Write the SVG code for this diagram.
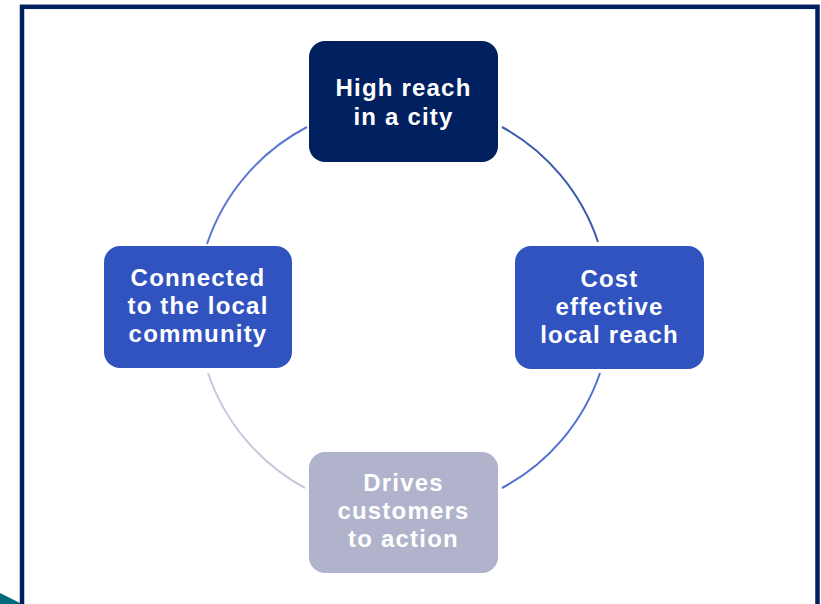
<svg xmlns="http://www.w3.org/2000/svg" width="821" height="604" viewBox="0 0 821 604">
<style>
.lbl{font-family:"Liberation Sans",Arial,sans-serif;font-weight:bold;font-size:24px;letter-spacing:1.2px;fill:#ffffff;text-anchor:middle}
.arc{fill:none;stroke-width:2}
</style>
<rect width="821" height="604" fill="#ffffff"/>
<polygon points="0,593 22,604 0,604" fill="#006b7a"/>
<rect x="22" y="6.8" width="795.5" height="620" fill="none" stroke="#002060" stroke-width="4.5"/>
<g id="connectors">
<path class="arc" d="M307,127 A206,206 0 0 0 207,244" stroke="#5a78d0"/>
<path class="arc" d="M502,127 A206,206 0 0 1 598,242" stroke="#3a5aaa"/>
<path class="arc" d="M600,373 A206,206 0 0 1 502,488" stroke="#5070d0"/>
<path class="arc" d="M208,373 A206,206 0 0 0 305,488" stroke="#c8c8dc"/>
</g>
<g id="node-top">
<rect x="309" y="41" width="189" height="121" rx="16" fill="#002060"/>
<text class="lbl" x="403.5" y="96">High reach</text>
<text class="lbl" x="403.5" y="125">in a city</text>
</g>
<g id="node-right">
<rect x="515" y="246" width="189" height="123" rx="16" fill="#3153c0"/>
<text class="lbl" x="609.5" y="287">Cost</text>
<text class="lbl" x="609.5" y="315">effective</text>
<text class="lbl" x="609.5" y="343">local reach</text>
</g>
<g id="node-bottom">
<rect x="309" y="452" width="189" height="121" rx="16" fill="#b0b3cb"/>
<text class="lbl" x="403.5" y="491">Drives</text>
<text class="lbl" x="403.5" y="519">customers</text>
<text class="lbl" x="403.5" y="547">to action</text>
</g>
<g id="node-left">
<rect x="104" y="246" width="188" height="122" rx="16" fill="#3153c0"/>
<text class="lbl" x="198" y="286">Connected</text>
<text class="lbl" x="198" y="314">to the local</text>
<text class="lbl" x="198" y="342">community</text>
</g>
</svg>
